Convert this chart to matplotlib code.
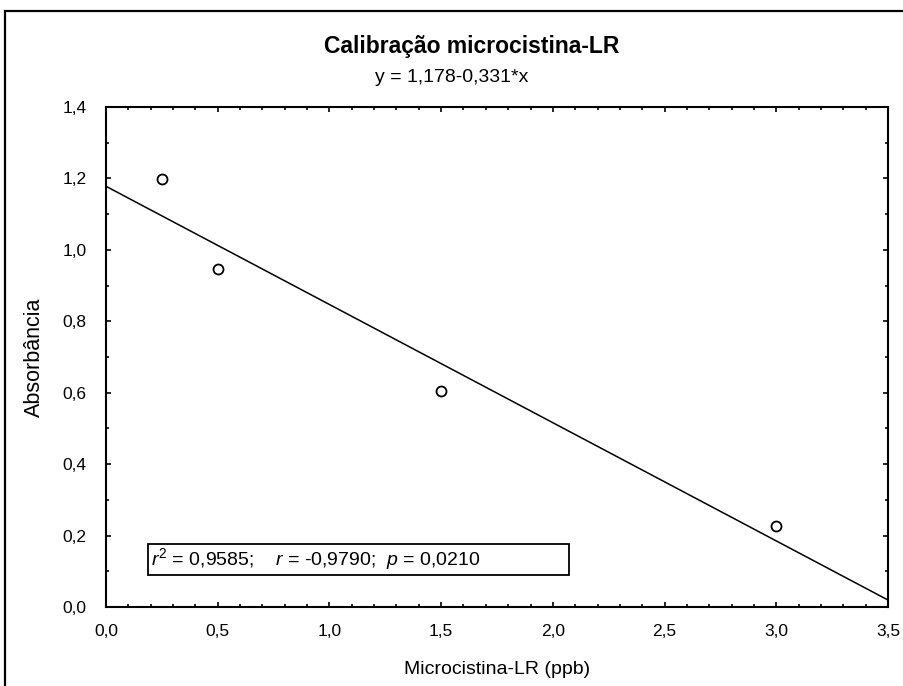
import matplotlib
matplotlib.use("Agg")
import matplotlib.pyplot as plt
from matplotlib.patches import Rectangle
from matplotlib.ticker import MultipleLocator, FuncFormatter
import numpy as np

plt.rcParams['font.family'] = ['Liberation Sans', 'DejaVu Sans']
plt.rcParams['mathtext.fontset'] = 'custom'
plt.rcParams['mathtext.rm'] = 'Liberation Sans'
plt.rcParams['mathtext.it'] = 'Liberation Sans:italic'

# Calibration standards (ppb) and measured absorbance
concentration = [0.25, 0.5, 1.5, 3.0]
absorbance = [1.197, 0.946, 0.606, 0.228]

# Fitted regression y = a + b*x
intercept = 1.178
slope = -0.331

title = "Calibração microcistina-LR"
equation = "y = 1,178-0,331*x"
stats_text = r"$\mathit{r}^2$ = 0,9585;    $\mathit{r}$ = -0,9790;  $\mathit{p}$ = 0,0210"

W, H = 904, 686
fig = plt.figure(figsize=(W / 100, H / 100), dpi=100)
ax = fig.add_axes([106 / W, 1 - 607 / H, (888 - 106) / W, (607 - 107) / H])

# Outer frame around the chart
fig.patches.append(Rectangle((5 / W, -0.1), 1.2, 1 - 11 / H + 0.1,
                             transform=fig.transFigure, fill=False,
                             edgecolor='black', linewidth=1.6))

xfit = np.array([0.0, 3.5])
ax.plot(xfit, intercept + slope * xfit, color='black', linewidth=1.1,
        solid_capstyle='butt')
ax.plot(concentration, absorbance, linestyle='none', marker='o',
        markersize=7.2, markerfacecolor='white', markeredgecolor='black',
        markeredgewidth=1.3)

ax.set_xlim(0, 3.5)
ax.set_ylim(0, 1.4)
ax.xaxis.set_major_locator(MultipleLocator(0.5))
ax.xaxis.set_minor_locator(MultipleLocator(0.1))
ax.yaxis.set_major_locator(MultipleLocator(0.2))
ax.yaxis.set_minor_locator(MultipleLocator(0.1))
comma = FuncFormatter(lambda v, p: f"{v:.1f}".replace('.', ','))
ax.xaxis.set_major_formatter(comma)
ax.yaxis.set_major_formatter(comma)

ax.tick_params(which='both', direction='in', top=True, right=True,
               labelsize=12.5, width=1.2)
ax.tick_params(which='major', length=3.5)
ax.tick_params(which='minor', length=2)
ax.tick_params(axis='x', which='major', pad=12)
ax.tick_params(axis='y', which='major', pad=14)
for s in ax.spines.values():
    s.set_linewidth(1.5)

ax.set_xlabel("Microcistina-LR (ppb)", fontsize=14)
ax.set_ylabel("Absorbância", fontsize=15.5)
ax.xaxis.set_label_coords(0.5, -(669 - 607) / 500)
ax.yaxis.set_label_coords(-(106 - 34) / 782, 0.5)
ax.xaxis.label.set_va('center')
ax.yaxis.label.set_va('center')

fig.text(472 / W, 1 - 46 / H, title, ha='center', va='center',
         fontsize=16.5, fontweight='bold')
fig.text(452 / W, 1 - 77 / H, equation, ha='center', va='center',
         fontsize=14)

# Statistics box
bx0, bx1 = (148 - 106) / 782, (569 - 106) / 782
by0, by1 = (607 - 575) / 500, (607 - 544) / 500
ax.add_patch(Rectangle((bx0, by0), bx1 - bx0, by1 - by0,
                       transform=ax.transAxes, fill=False,
                       edgecolor='black', linewidth=1.3))
ax.text(bx0 + 3 / 782, (by0 + by1) / 2, stats_text, transform=ax.transAxes,
        ha='left', va='center', fontsize=14)

fig.savefig("out.png", dpi=100)
